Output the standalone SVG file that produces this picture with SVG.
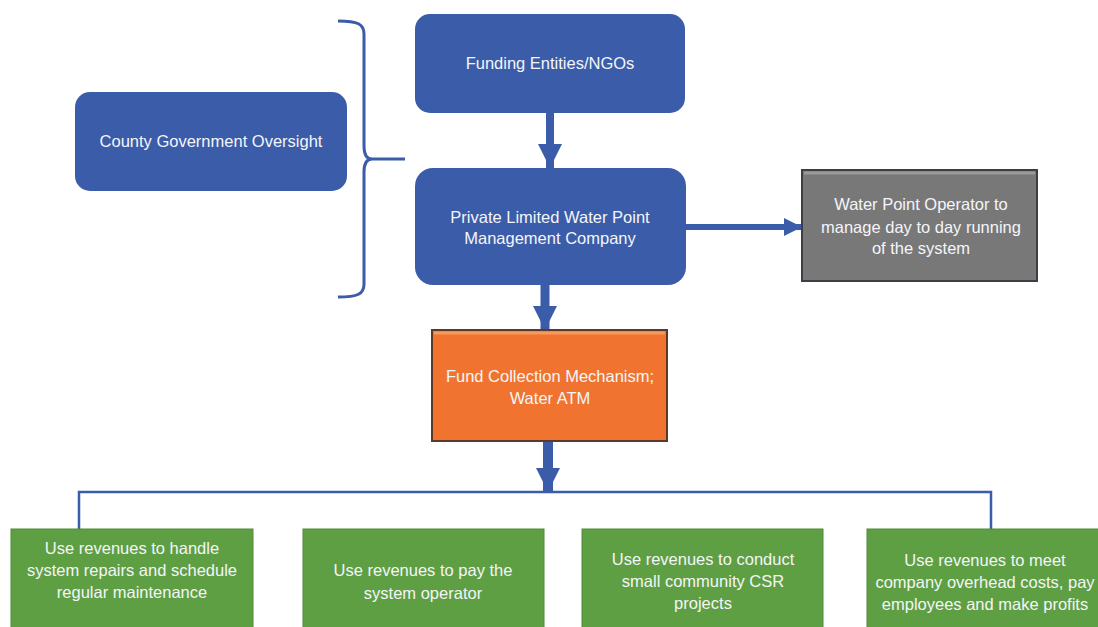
<svg xmlns="http://www.w3.org/2000/svg" width="1098" height="627" viewBox="0 0 1098 627">
<defs>
<style>
.blue{fill:#3A5CA9}
.txt{font-family:"Liberation Sans",Arial,sans-serif;font-size:16.5px;fill:#F4F5F8;text-anchor:middle}
.green{fill:#5E9F43;stroke:#4F8C37;stroke-width:1}
.conn{stroke:#3A5CA9;fill:none}
</style>
<marker id="headL" markerUnits="userSpaceOnUse" markerWidth="25" markerHeight="24" refX="24" refY="12" orient="auto">
<path d="M0,0 L24,12 L0,24 z" fill="#3A5CA9"/>
</marker>
<marker id="headS" markerUnits="userSpaceOnUse" markerWidth="19" markerHeight="19" refX="18" refY="9" orient="auto">
<path d="M0,0 L18,9 L0,18 z" fill="#3A5CA9"/>
</marker>
</defs>
<rect width="1098" height="627" fill="#FFFFFF"/>

<g id="connectors">
<path class="conn" stroke-width="3" d="M338,21 C358,21 364,24 364,34 L364,146 C364,154 366,159 372,159 L405,159 M372,159 C366,159 364,164 364,172 L364,284 C364,294 358,297 338,297"/>
<line class="conn" x1="550" y1="113" x2="550" y2="168" stroke-width="8" marker-end="url(#headL)"/>
<line class="conn" x1="545" y1="285" x2="545" y2="330" stroke-width="9" marker-end="url(#headL)"/>
<line class="conn" x1="548" y1="441" x2="548" y2="492" stroke-width="10" marker-end="url(#headL)"/>
<line class="conn" x1="686" y1="227" x2="802" y2="227" stroke-width="6" marker-end="url(#headS)"/>
<path class="conn" stroke-width="2.5" d="M79,529 L79,492 L991,492 L991,529"/>
</g>

<g id="county">
<rect class="blue" x="75" y="92" width="272" height="99" rx="15"/>
<text class="txt" x="211" y="147">County Government Oversight</text>
</g>

<g id="funding">
<rect class="blue" x="415" y="14" width="270" height="99" rx="15"/>
<text class="txt" x="550" y="69">Funding Entities/NGOs</text>
</g>

<g id="company">
<rect class="blue" x="415" y="168" width="271" height="117" rx="18"/>
<text class="txt" x="550" y="223">Private Limited Water Point</text>
<text class="txt" x="550" y="244">Management Company</text>
</g>

<g id="operator">
<rect x="802" y="170" width="235" height="111" fill="#787878" stroke="#3E3E44" stroke-width="2"/>
<line x1="804" y1="173" x2="1035" y2="173" stroke="#9A9A9A" stroke-width="3"/>
<text class="txt" x="921" y="210">Water Point Operator to</text>
<text class="txt" x="921" y="233">manage day to day running</text>
<text class="txt" x="921" y="254">of the system</text>
</g>

<g id="collection">
<rect x="432" y="330" width="235" height="111" fill="#F07330" stroke="#5A3A2A" stroke-width="2"/>
<line x1="434" y1="333" x2="665" y2="333" stroke="#F59A5C" stroke-width="3"/>
<text class="txt" x="550" y="382">Fund Collection Mechanism;</text>
<text class="txt" x="550" y="404">Water ATM</text>
</g>

<g id="repairs">
<rect class="green" x="11" y="529" width="242" height="110"/>
<text class="txt" x="132" y="554">Use revenues to handle</text>
<text class="txt" x="132" y="576">system repairs and schedule</text>
<text class="txt" x="132" y="598">regular maintenance</text>
</g>

<g id="payoperator">
<rect class="green" x="303" y="529" width="241" height="110"/>
<text class="txt" x="423" y="576">Use revenues to pay the</text>
<text class="txt" x="423" y="599">system operator</text>
</g>

<g id="csr">
<rect class="green" x="582" y="529" width="241" height="110"/>
<text class="txt" x="703" y="565">Use revenues to conduct</text>
<text class="txt" x="703" y="587">small community CSR</text>
<text class="txt" x="703" y="609">projects</text>
</g>

<g id="overhead">
<rect class="green" x="867" y="529" width="241" height="110"/>
<text class="txt" x="985" y="566">Use revenues to meet</text>
<text class="txt" x="985" y="588">company overhead costs, pay</text>
<text class="txt" x="985" y="610">employees and make profits</text>
</g>
</svg>
